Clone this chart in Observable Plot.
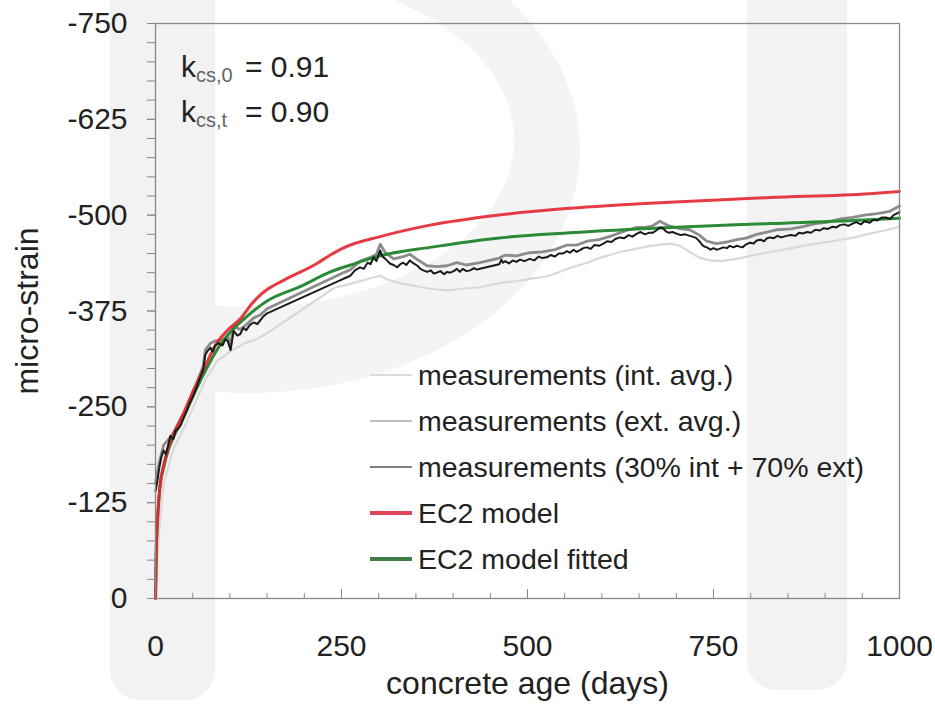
<!DOCTYPE html>
<html><head><meta charset="utf-8">
<script src="https://cdn.jsdelivr.net/npm/d3@7"></script>
<script src="https://cdn.jsdelivr.net/npm/@observablehq/plot@0.6"></script>
<style>
body{margin:0;background:#fff;font-family:"Liberation Sans",Arial,sans-serif;}
#wrap{position:relative;width:935px;height:705px;overflow:hidden;background:#fff;}
.wm{position:absolute;background:#f2f2f2;}
#bowl{position:absolute;left:160px;top:0;width:700px;height:705px;overflow:hidden;}
#chart{position:absolute;left:0;top:0;}
.ann{position:absolute;left:181px;font-size:30px;line-height:1;color:#222;white-space:nowrap;}
.ann .k{display:inline-block;width:64px;}
.ann sub{font-size:20px;vertical-align:-5px;line-height:1;color:#666;}
#legend{position:absolute;left:370px;top:352px;}
.lrow{display:flex;align-items:center;height:46px;font-size:28.5px;color:#222;white-space:nowrap;}
.lrow svg{margin-right:6px;}
</style></head><body>
<div id="wrap">
  <div id="bowl">
    <div class="wm" style="left:-240px;top:-93px;width:660px;height:486px;border-radius:50%;background:#f4f4f4;"></div>
    <div class="wm" style="left:-174px;top:-27px;width:528px;height:334px;border-radius:50%;background:#fff;"></div>
  </div>
  <div class="wm" style="left:110px;top:-20px;width:105px;height:720px;border-radius:0 0 30px 30px;"></div>
  <div class="wm" style="left:747px;top:-20px;width:100px;height:710px;border-radius:0 0 30px 30px;"></div>
  <div id="chart"></div>
  <div id="annot"></div>
  <div id="legend"></div>
</div>
<script>
// ---------- data ----------
const xTicks = [0, 250, 500, 750, 1000];
const xMinorTicks = [0,50,100,150,200,250,300,350,400,450,500,550,600,650,700,750,800,850,900,950,1000];
const yTicks = [0, -125, -250, -375, -500, -625, -750];
const yMinorTicks = [0,-25,-50,-75,-100,-125,-150,-175,-200,-225,-250,-275,-300,-325,-350,-375,-400,-425,-450,-475,-500,-525,-550,-575,-600,-625,-650,-675,-700,-725,-750];

const seriesNames = ["measurements (int. avg.)", "measurements (ext. avg.)", "measurements (30% int + 70% ext)", "EC2 model", "EC2 model fitted"];
const kNames = ["cs,0", "cs,t"];
const kValues = ["0.91", "0.90"];

// [concrete age (days), micro-strain]
const measInt = [[0,-5],[5,-90],[11,-150],[24,-195],[38,-222],[51,-250],[67,-285],[83,-310],[100,-322],[120,-333],[135,-338],[150,-346],
 [240,-405],[260,-410],[279,-415],[290,-418],[302,-421],[312,-416],[325,-412],[335,-410],[346,-408],[358,-406],[369,-404],[380,-403],[392,-402],
 [403,-403],[413,-404],[425,-405],[436,-406],[450,-409],[467,-412],[485,-414],[503,-417],[525,-420],[540,-425],[557,-431],[580,-438],[600,-445],
 [624,-452],[645,-456],[665,-460],[691,-463],[705,-460],[718,-452],[730,-445],[745,-441],[760,-440],[781,-443],[800,-447],[826,-452],[850,-456],
 [870,-460],[890,-463],[915,-467],[940,-471],[960,-476],[980,-480],[997,-484],[1000,-486]];

const measExt = [[0,-150],[5,-178],[11,-200],[17,-207],[24,-216],[31,-229],[38,-242],[46,-260],[55,-280],[64,-303],[67,-324],[74,-333],[80,-336],
 [90,-337],[97,-342],[101,-332],[105,-355],[114,-351],[122,-357],[132,-366],[141,-370],[150,-378],[248,-423],[262,-429],[275,-440],[289,-445],
 [297,-449],[302,-462],[309,-451],[320,-443],[333,-446],[342,-449],[352,-442],[365,-434],[378,-433],[392,-434],[405,-438],[418,-435],[436,-438],
 [462,-444],[470,-448],[485,-447],[503,-451],[520,-452],[537,-455],[553,-461],[566,-461],[580,-466],[596,-468],[613,-473],[630,-479],[647,-484],
 [658,-484],[668,-486],[678,-492],[690,-486],[706,-482],[718,-481],[731,-474],[741,-466],[754,-463],[768,-465],[781,-468],[794,-470],[808,-475],
 [822,-478],[836,-481],[854,-482],[870,-485],[887,-489],[904,-491],[920,-495],[937,-497],[953,-500],[970,-502],[987,-505],[1000,-512]];

const measComb = [[0,-140],[2,-150],[5,-170],[8,-185],[11,-193],[14,-188],[17,-200],[20,-212],[24,-208],[27,-219],[31,-222],[34,-226],[38,-236],
 [42,-245],[46,-255],[51,-265],[55,-275],[60,-288],[64,-298],[67,-318],[70,-323],[74,-327],[77,-322],[80,-330],[85,-333],[90,-330],[94,-338],
 [97,-336],[101,-324],[105,-349],[110,-343],[114,-345],[118,-353],[122,-350],[127,-357],[132,-360],[137,-358],[141,-363],[145,-368],[150,-372],
 [248,-415],[255,-418],[262,-421],[268,-428],[275,-432],[280,-430],[285,-438],[289,-436],[293,-445],[297,-440],[302,-454],[305,-446],[309,-443],
 [312,-440],[315,-437],[320,-435],[325,-432],[329,-436],[333,-438],[337,-435],[342,-441],[347,-437],[352,-434],[356,-430],[360,-428],[365,-426],
 [370,-428],[374,-424],[378,-425],[383,-427],[388,-423],[392,-426],[396,-425],[401,-427],[405,-430],[409,-426],[413,-430],[418,-427],[423,-428],
 [428,-431],[432,-429],[436,-430],[462,-436],[465,-442],[467,-438],[470,-440],[475,-437],[480,-441],[485,-439],[490,-442],[496,-440],[503,-443],
 [509,-441],[515,-446],[520,-444],[526,-445],[531,-448],[537,-446],[542,-450],[548,-450],[553,-453],[557,-451],[562,-455],[566,-452],[570,-454],
 [575,-457],[580,-458],[585,-456],[590,-461],[596,-460],[602,-463],[607,-466],[613,-465],[618,-469],[624,-471],[630,-470],[636,-474],[641,-472],
 [647,-476],[652,-478],[658,-475],[663,-477],[668,-477],[673,-480],[678,-484],[682,-483],[686,-479],[690,-477],[695,-478],[700,-476],[706,-474],
 [712,-475],[718,-473],[722,-472],[727,-470],[731,-466],[735,-461],[738,-459],[741,-458],[746,-455],[750,-457],[754,-455],[758,-456],[763,-458],
 [768,-457],[772,-460],[777,-458],[781,-460],[785,-459],[789,-458],[794,-462],[799,-464],[804,-463],[808,-467],[813,-468],[818,-466],[822,-470],
 [826,-471],[831,-470],[836,-473],[841,-471],[848,-473],[854,-474],[860,-473],[865,-477],[870,-476],[876,-478],[881,-477],[887,-481],[893,-480],
 [898,-483],[904,-482],[910,-485],[915,-484],[920,-487],[926,-488],[931,-486],[937,-489],[942,-491],[948,-488],[953,-492],[960,-490],[965,-494],
 [970,-493],[976,-497],[982,-497],[987,-495],[992,-500],[996,-502],[1000,-504]];

const ec2Model = [[0,0],[1,-60],[3,-108],[6,-147],[11,-174],[17,-196],[24,-214],[31,-228],[38,-242],[51,-271],[67,-304],[83,-334],[97,-350],
 [114,-365],[130,-385],[141,-396],[150,-403],[172,-415],[217,-437],[235,-448],[252,-457],[302,-472],[369,-487],[459,-500],[557,-509],[691,-517],
 [826,-523],[960,-528],[1000,-531]];

const ec2Fitted = [[0,0],[1,-60],[3,-106],[6,-145],[11,-171],[17,-193],[24,-210],[31,-224],[38,-237],[51,-265],[67,-297],[83,-325],[105,-352],
 [123,-368],[141,-382],[150,-388],[195,-407],[235,-426],[262,-435],[302,-447],[369,-458],[459,-470],[557,-477],[691,-484],[826,-489],[960,-494],
 [1000,-496]];

// ---------- styles ----------
const colors = {int: "#d9d9d9", ext: "#8c8c8c", comb: "#1a1a1a", red: "#e3262e", green: "#2b8a35"};
const legendColors = ["#dcdcdc", "#ababab", "#555555", "#e0455a", "#3c8048"];
const legendWidths = [2, 1.5, 1.5, 4, 4];

const toRows = arr => arr.map(([d, v]) => ({d, v}));

const chart = Plot.plot({
  width: 935, height: 705,
  marginLeft: 155, marginRight: 36, marginTop: 23, marginBottom: 107,
  style: {background: "transparent", fontFamily: "'Liberation Sans', Arial, sans-serif", fontSize: "30px", color: "#222", overflow: "visible"},
  x: {domain: [0, 1000]},
  y: {domain: [0, -750]},
  marks: [
    Plot.line(toRows(measInt), {x: "d", y: "v", stroke: colors.int, strokeWidth: 2.2}),
    Plot.line(toRows(measExt), {x: "d", y: "v", stroke: colors.ext, strokeWidth: 2.8}),
    Plot.line(toRows(ec2Fitted), {x: "d", y: "v", stroke: colors.green, strokeWidth: 3, curve: "monotone-x"}),
    Plot.line(toRows(ec2Model), {x: "d", y: "v", stroke: colors.red, strokeWidth: 3, curve: "monotone-x", strokeOpacity: 0.9}),
    Plot.line(toRows(measComb), {x: "d", y: "v", stroke: colors.comb, strokeWidth: 2}),
    Plot.frame({stroke: "#888", strokeWidth: 1.3}),
    Plot.axisY(yMinorTicks, {tickSize: 8, tickFormat: () => "", label: null, stroke: "#888"}),
    Plot.axisY(yTicks, {tickSize: 8, tickPadding: 20, tickFormat: d => String(d), stroke: "#888",
      label: "micro-strain", labelAnchor: "center", labelOffset: 140, labelArrow: "none"}),
    Plot.axisX(xMinorTicks, {tickSize: -5, tickFormat: () => "", label: null, stroke: "#888"}),
    Plot.axisX(xTicks, {tickSize: -9, tickPadding: 45, tickFormat: d => String(d), stroke: "#888",
      label: "concrete age (days)", labelAnchor: "center", labelOffset: 95, labelArrow: "none"})
  ]
});
d3.select(chart).selectAll('g[aria-label$="axis label"]').attr("font-size", 32).selectAll("text").style("font-size", "32px");
document.getElementById("chart").appendChild(chart);

// annotation
const annot = document.getElementById("annot");
kNames.forEach((k, i) => {
  const div = document.createElement("div");
  div.className = "ann";
  div.style.top = (52 + i * 45) + "px";
  div.innerHTML = `<span class="k">k<sub>${k}</sub></span>= ${kValues[i]}`;
  annot.appendChild(div);
});

// legend
const legend = document.getElementById("legend");
seriesNames.forEach((name, i) => {
  const row = document.createElement("div");
  row.className = "lrow";
  row.innerHTML = `<svg width="42" height="10"><line x1="0" x2="42" y1="5" y2="5" stroke="${legendColors[i]}" stroke-width="${legendWidths[i]}"/></svg><span>${name}</span>`;
  legend.appendChild(row);
});
</script>
</body></html>
